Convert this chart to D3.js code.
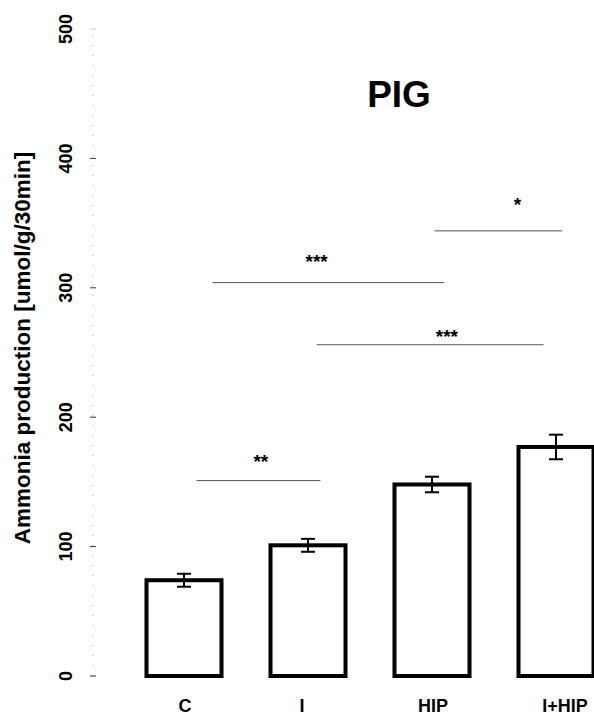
<!DOCTYPE html>
<html>
<head>
<meta charset="utf-8">
<script src="https://cdn.jsdelivr.net/npm/d3@7"></script>
<style>
    html, body { margin: 0; padding: 0; background: #fff; }
    svg text { font-family: "Liberation Sans", Arial, sans-serif; font-weight: bold; fill: #000; }
</style>
</head>
<body>
<div id="chart"></div>
<script>
// Chart data
const categories = ['C', 'I', 'HIP', 'I+HIP'];
const means = [74, 101, 148, 177];
const errors = [5, 5, 6, 9.5];
const yTicks = [0, 100, 200, 300, 400, 500];

// significance brackets: start/end in category index units, height in data units
const sigLabels = ['**', '***', '***', '*'];
const sigStart = [0.1, 0.23, 1.07, 2.02];
const sigEnd = [1.1, 2.1, 2.9, 3.05];
const sigLevel = [151, 304, 256, 344];
// where the stars sit (category index units / data units)
const starPos = [0.62, 1.07, 2.12, 2.69];
const starLevel = [169, 324, 266, 368];

const width = 594;
const height = 717;

const svg = d3.select('#chart')
    .append('svg')
    .attr('width', width)
    .attr('height', height);

// Scales
const y = d3.scaleLinear().domain([0, 500]).range([676, 29]);
const x = d3.scalePoint().domain(categories).range([184, 556]);
const xIdx = d3.scaleLinear().domain([0, 3]).range([184, 556]);
const barWidth = 75;

// Y axis (faint dotted line, small ticks, rotated labels)
const axisX = 93;
svg.append('line')
    .attr('x1', axisX).attr('x2', axisX)
    .attr('y1', y(0)).attr('y2', y(500))
    .attr('stroke', '#aaa')
    .attr('stroke-width', 1)
    .attr('stroke-dasharray', '1,9');

const ticks = svg.append('g');
ticks.selectAll('line')
    .data(yTicks)
    .enter().append('line')
    .attr('x1', axisX - 3).attr('x2', axisX + 3)
    .attr('y1', d => y(d)).attr('y2', d => y(d))
    .attr('stroke', d => d === 500 ? '#ccc' : '#333')
    .attr('stroke-width', 1);

ticks.selectAll('text')
    .data(yTicks)
    .enter().append('text')
    .attr('transform', d => `translate(${66},${y(d)}) rotate(-90)`)
    .attr('text-anchor', 'middle')
    .attr('dominant-baseline', 'central')
    .style('font-size', '18px')
    .text(d => d);

// Y axis title
svg.append('text')
    .attr('transform', `translate(22,${348}) rotate(-90)`)
    .attr('text-anchor', 'middle')
    .attr('dominant-baseline', 'central')
    .style('font-size', '22.5px')
    .text('Ammonia production [umol/g/30min]');

// Title
svg.append('text')
    .attr('x', 399)
    .attr('y', 94)
    .attr('text-anchor', 'middle')
    .attr('dominant-baseline', 'central')
    .style('font-size', '37px')
    .text('PIG');

// Bars
svg.append('g')
    .selectAll('rect')
    .data(categories)
    .enter().append('rect')
    .attr('x', d => x(d) - barWidth / 2)
    .attr('y', (d, i) => y(means[i]))
    .attr('width', barWidth)
    .attr('height', (d, i) => y(0) - y(means[i]))
    .attr('fill', '#fff')
    .attr('stroke', '#000')
    .attr('stroke-width', 4);

// Error bars
const err = svg.append('g')
    .selectAll('g')
    .data(categories)
    .enter().append('g');

err.append('line')
    .attr('x1', d => x(d)).attr('x2', d => x(d))
    .attr('y1', (d, i) => y(means[i] + errors[i]))
    .attr('y2', (d, i) => y(means[i] - errors[i]))
    .attr('stroke', '#000').attr('stroke-width', 2);

[1, -1].forEach(sign => {
    err.append('line')
        .attr('x1', d => x(d) - 7).attr('x2', d => x(d) + 7)
        .attr('y1', (d, i) => y(means[i] + sign * errors[i]))
        .attr('y2', (d, i) => y(means[i] + sign * errors[i]))
        .attr('stroke', '#000').attr('stroke-width', 2);
});

// X labels
svg.append('g')
    .selectAll('text')
    .data(categories)
    .enter().append('text')
    .attr('x', d => x(d) + (d === 'I' ? -6 : d === 'I+HIP' ? 9 : 1))
    .attr('y', 706)
    .attr('text-anchor', 'middle')
    .attr('dominant-baseline', 'central')
    .style('font-size', '18px')
    .text(d => d);

// Significance lines
const sig = svg.append('g')
    .selectAll('g')
    .data(sigLabels)
    .enter().append('g');

sig.append('line')
    .attr('x1', (d, i) => xIdx(sigStart[i]))
    .attr('x2', (d, i) => xIdx(sigEnd[i]))
    .attr('y1', (d, i) => y(sigLevel[i]))
    .attr('y2', (d, i) => y(sigLevel[i]))
    .attr('stroke', '#555')
    .attr('stroke-width', 1);

// asterisk glyph sits high in the em box, so shift the baseline down
sig.append('text')
    .attr('x', (d, i) => xIdx(starPos[i]))
    .attr('y', (d, i) => y(starLevel[i]) + 11)
    .attr('text-anchor', 'middle')
    .style('font-size', '19px')
    .text(d => d);
</script>
</body>
</html>
